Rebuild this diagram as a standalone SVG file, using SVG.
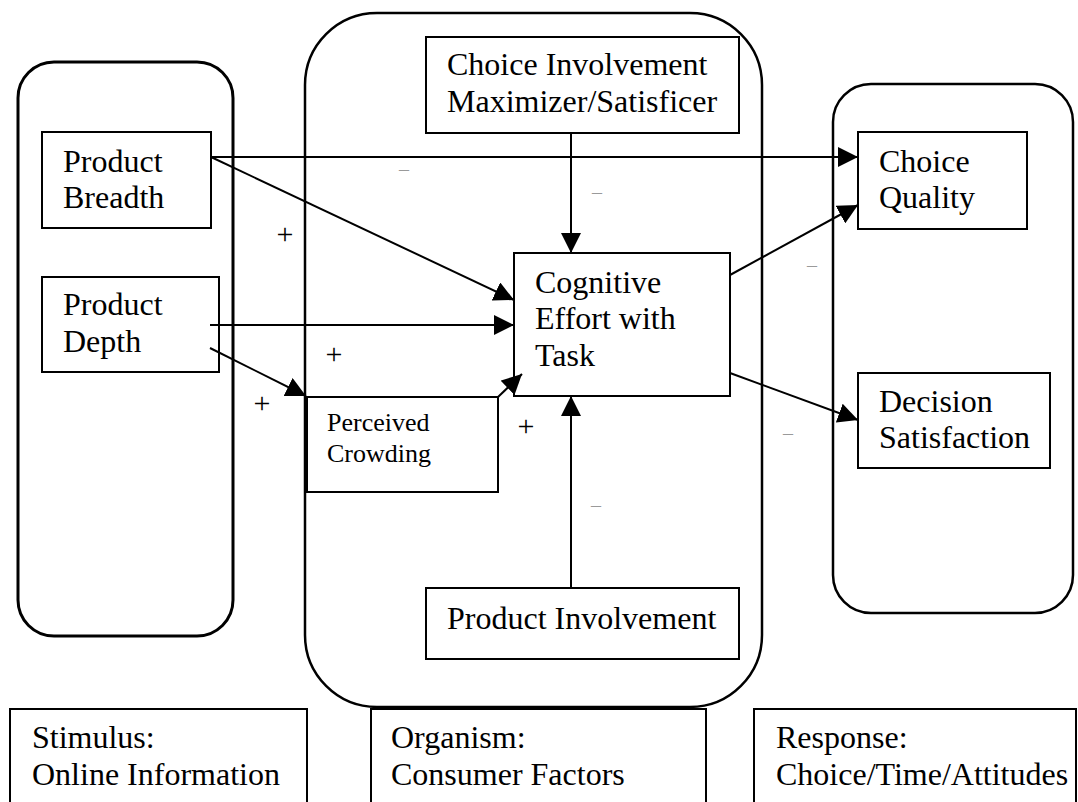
<svg xmlns="http://www.w3.org/2000/svg" width="1078" height="802" viewBox="0 0 1078 802" font-family="'Liberation Serif', 'Times New Roman', 'DejaVu Serif', serif">
<defs>
<style>
.t{font-size:32px;font-family:'Liberation Serif','Times New Roman','DejaVu Serif',serif}
.s{font-size:26px;font-family:'Liberation Serif','Times New Roman','DejaVu Serif',serif}
.p{font-size:30px;font-family:'Liberation Serif','Times New Roman','DejaVu Serif',serif}
.m{font-size:20px;fill:#9a9a9a;font-family:'Liberation Serif','Times New Roman','DejaVu Serif',serif}
.box{fill:none;stroke:#000;stroke-width:2}
.grp{fill:none;stroke:#000}
.c{fill:none;stroke:#000;stroke-width:2}
</style>
<marker id="ah" markerWidth="20" markerHeight="20" refX="20" refY="10" orient="auto" markerUnits="userSpaceOnUse" viewBox="0 0 20 20">
<path d="M0,0 L20,10 L0,20 Z" fill="#000"/>
</marker>
</defs>
<rect width="1078" height="802" fill="#fff"/>

<g id="group-stimulus">
<rect class="grp" x="18" y="62" width="215" height="574" rx="36" ry="36" stroke-width="3"/>
</g>
<g id="group-organism">
<rect class="grp" x="305" y="13" width="457" height="694" rx="72" ry="72" stroke-width="2.5"/>
</g>
<g id="group-response">
<rect class="grp" x="833" y="84" width="240" height="529" rx="38" ry="38" stroke-width="2.5"/>
</g>

<g id="product-breadth">
<rect class="box" x="42" y="132" width="169" height="96"/>
<text class="t" x="63" y="172">Product</text>
<text class="t" x="63" y="208">Breadth</text>
</g>
<g id="product-depth">
<rect class="box" x="42" y="277" width="177" height="95"/>
<text class="t" x="63" y="315">Product</text>
<text class="t" x="63" y="352">Depth</text>
</g>
<g id="choice-involvement">
<rect class="box" x="426" y="37" width="313" height="96"/>
<text class="t" x="447" y="75">Choice Involvement</text>
<text class="t" x="447" y="112">Maximizer/Satisficer</text>
</g>
<g id="cognitive-effort">
<rect class="box" x="514" y="253" width="216" height="143"/>
<text class="t" x="535" y="293">Cognitive</text>
<text class="t" x="535" y="329">Effort with</text>
<text class="t" x="535" y="366">Task</text>
</g>
<g id="perceived-crowding">
<rect class="box" x="307" y="397" width="191" height="95"/>
<text class="s" x="327" y="431">Perceived</text>
<text class="s" x="327" y="462">Crowding</text>
</g>
<g id="product-involvement">
<rect class="box" x="426" y="588" width="313" height="71"/>
<text class="t" x="447" y="629">Product Involvement</text>
</g>
<g id="choice-quality">
<rect class="box" x="858" y="132" width="169" height="97"/>
<text class="t" x="879" y="172">Choice</text>
<text class="t" x="879" y="208">Quality</text>
</g>
<g id="decision-satisfaction">
<rect class="box" x="858" y="373" width="192" height="95"/>
<text class="t" x="879" y="412">Decision</text>
<text class="t" x="879" y="448">Satisfaction</text>
</g>

<g id="label-stimulus">
<path class="box" d="M10,802 V709 H307 V802"/>
<text class="t" x="32" y="748">Stimulus:</text>
<text class="t" x="32" y="785">Online Information</text>
</g>
<g id="label-organism">
<path class="box" d="M371,802 V709 H706 V802"/>
<text class="t" x="391" y="748">Organism:</text>
<text class="t" x="391" y="785">Consumer Factors</text>
</g>
<g id="label-response">
<path class="box" d="M754,802 V709 H1076 V802"/>
<text class="t" x="776" y="748">Response:</text>
<text class="t" x="776" y="785">Choice/Time/Attitudes</text>
</g>

<g id="connectors">
<line class="c" x1="211" y1="157" x2="858" y2="157" marker-end="url(#ah)"/>
<line class="c" x1="211" y1="157" x2="514" y2="300" marker-end="url(#ah)"/>
<line class="c" x1="210" y1="325" x2="514" y2="325" marker-end="url(#ah)"/>
<line class="c" x1="210" y1="348" x2="306" y2="396" marker-end="url(#ah)"/>
<line class="c" x1="498" y1="397" x2="522" y2="374" marker-end="url(#ah)"/>
<line class="c" x1="571" y1="133" x2="571" y2="253" marker-end="url(#ah)"/>
<line class="c" x1="571" y1="588" x2="571" y2="396" marker-end="url(#ah)"/>
<line class="c" x1="730" y1="275" x2="858" y2="205" marker-end="url(#ah)"/>
<line class="c" x1="730" y1="373" x2="858" y2="420" marker-end="url(#ah)"/>
</g>

<g id="signs">
<text class="p" x="285" y="244" text-anchor="middle">+</text>
<text class="p" x="262" y="413" text-anchor="middle">+</text>
<text class="p" x="334" y="364" text-anchor="middle">+</text>
<text class="p" x="526" y="436" text-anchor="middle">+</text>
<text class="m" x="404" y="176" text-anchor="middle">–</text>
<text class="m" x="597" y="199" text-anchor="middle">–</text>
<text class="m" x="812" y="272" text-anchor="middle">–</text>
<text class="m" x="788" y="440" text-anchor="middle">–</text>
<text class="m" x="596" y="512" text-anchor="middle">–</text>
</g>
</svg>
